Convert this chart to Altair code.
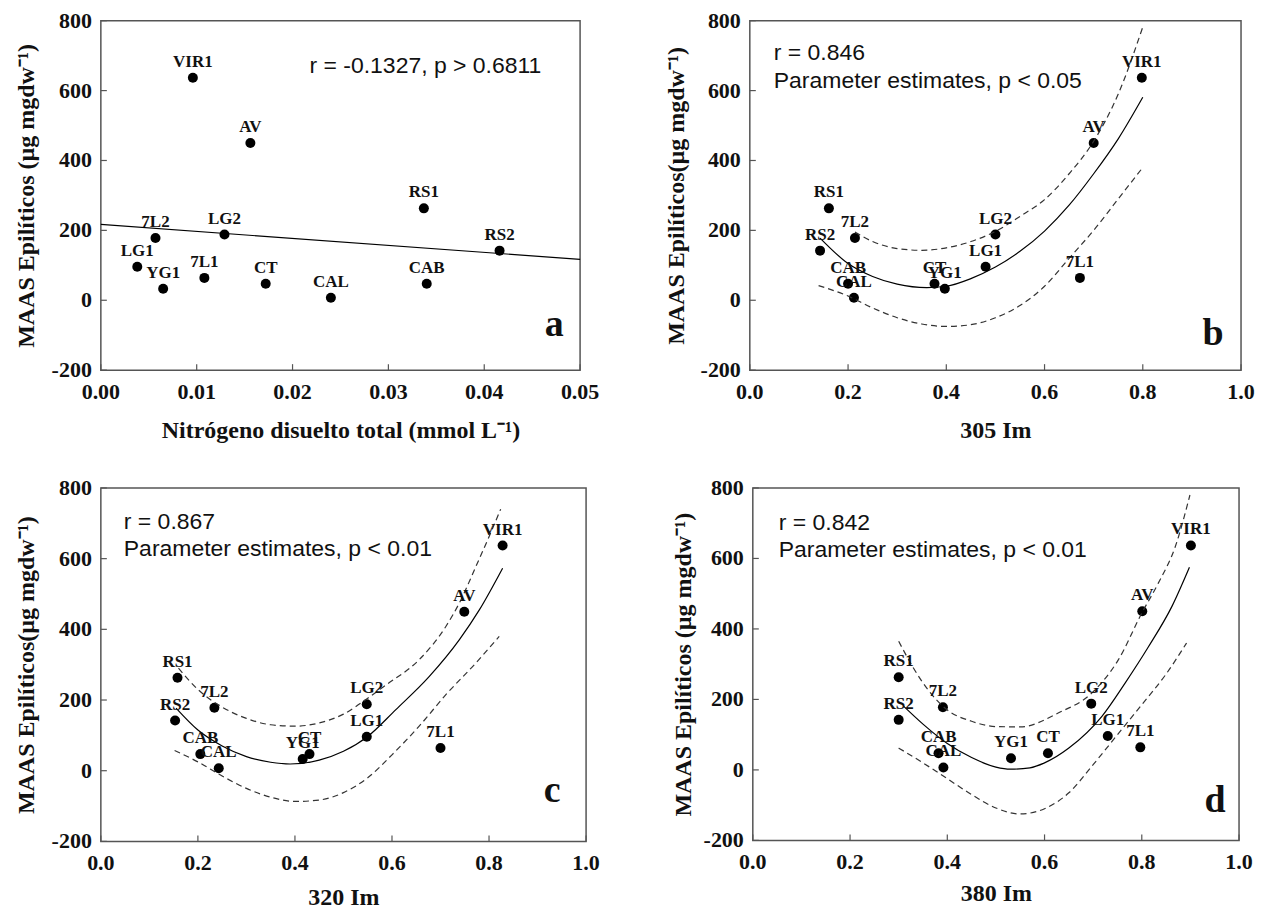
import altair as alt
import pandas as pd

SERIF = "Liberation Serif"
SANS = "Liberation Sans"

sites = ["VIR1", "AV", "RS1", "RS2", "7L2", "LG2", "LG1", "YG1", "7L1", "CT", "CAL", "CAB"]
maas = [637, 450, 263, 142, 178, 188, 96, 33, 64, 47, 7, 47]

x_a = [0.0096, 0.0156, 0.0337, 0.0416, 0.0057, 0.0129, 0.0038, 0.0065, 0.0108, 0.0172, 0.0240, 0.0340]
x_b = [0.798, 0.700, 0.161, 0.143, 0.214, 0.500, 0.480, 0.397, 0.672, 0.376, 0.212, 0.200]
x_c = [0.828, 0.749, 0.158, 0.153, 0.234, 0.548, 0.548, 0.416, 0.700, 0.430, 0.243, 0.205]
x_d = [0.901, 0.801, 0.300, 0.300, 0.391, 0.696, 0.730, 0.531, 0.797, 0.607, 0.392, 0.382]

# panel a: linear regression line (end points)
a_fit_x = [0.0, 0.05]
a_fit_y = [217, 117]

# panel b curves
b_fit_x = [0.143, 0.2, 0.25, 0.3, 0.36, 0.4, 0.45, 0.5, 0.55, 0.6, 0.65, 0.7, 0.75, 0.8]
b_fit_y = [178, 105, 68, 46, 36, 40, 62, 95, 140, 198, 272, 362, 462, 581]
b_up_x = [0.214, 0.25, 0.3, 0.35, 0.4, 0.45, 0.5, 0.55, 0.6, 0.65, 0.7, 0.75, 0.8]
b_up_y = [195, 168, 148, 143, 150, 168, 197, 240, 288, 362, 455, 590, 782]
b_lo_x = [0.14, 0.2, 0.25, 0.3, 0.35, 0.4, 0.45, 0.5, 0.55, 0.6, 0.65, 0.7, 0.75, 0.8]
b_lo_y = [42, 12, -22, -50, -68, -75, -70, -50, -15, 40, 120, 200, 290, 380]

# panel c curves
c_fit_x = [0.155, 0.2, 0.25, 0.3, 0.35, 0.39, 0.45, 0.5, 0.55, 0.608, 0.677, 0.739, 0.78, 0.828]
c_fit_y = [177, 115, 70, 40, 24, 19, 30, 55, 97, 173, 267, 371, 455, 573]
c_up_x = [0.16, 0.2, 0.25, 0.3, 0.35, 0.4, 0.45, 0.5, 0.55, 0.588, 0.656, 0.711, 0.739, 0.773, 0.8, 0.824]
c_up_y = [290, 230, 180, 148, 130, 126, 135, 160, 205, 243, 314, 408, 475, 578, 662, 740]
c_lo_x = [0.152, 0.2, 0.25, 0.3, 0.35, 0.4, 0.45, 0.5, 0.55, 0.6, 0.656, 0.711, 0.773, 0.821]
c_lo_y = [57, 25, -15, -50, -75, -87, -83, -62, -20, 45, 126, 215, 305, 380]

# panel d curves
d_fit_x = [0.31, 0.35, 0.4, 0.45, 0.5, 0.53, 0.57, 0.6, 0.65, 0.718, 0.766, 0.814, 0.862, 0.898]
d_fit_y = [181, 130, 75, 35, 8, 2, 6, 20, 62, 152, 247, 350, 464, 575]
d_up_x = [0.3, 0.33, 0.36, 0.4, 0.45, 0.5, 0.55, 0.629, 0.697, 0.752, 0.8, 0.834, 0.869, 0.899]
d_up_y = [365, 290, 228, 170, 138, 123, 122, 162, 218, 313, 445, 530, 634, 780]
d_lo_x = [0.3, 0.35, 0.4, 0.45, 0.5, 0.55, 0.6, 0.65, 0.7, 0.75, 0.8, 0.85, 0.892]
d_lo_y = [62, 20, -25, -70, -108, -125, -110, -65, 15, 100, 185, 272, 360]

y_ticks = [-200, 0, 200, 400, 600, 800]
y_tick_labels = ["-200", "0", "200", "400", "600", "800"]
a_ticks = [0.0, 0.01, 0.02, 0.03, 0.04, 0.05]
a_tick_labels = ["0.00", "0.01", "0.02", "0.03", "0.04", "0.05"]
im_ticks = [0.0, 0.2, 0.4, 0.6, 0.8, 1.0]
im_tick_labels = ["0.0", "0.2", "0.4", "0.6", "0.8", "1.0"]

ytitle_sp = "MAAS Epilíticos (µg mgdw⁻¹)"
ytitle_ns = "MAAS Epilíticos(µg mgdw⁻¹)"

FRAME = "#555555"
INK = "#111111"


def axis(values, title, title_pad):
    return alt.Axis(values=values, title=title, ticks=False, domain=False, grid=False,
                    labels=False, titlePadding=title_pad,
                    titleFont=SERIF, titleFontWeight="bold", titleFontSize=24, titleColor=INK)


def panel(xs, xdom, xticks, xlabels, xtitle, ytitle, w, h, curves, annots, letter, letter_pos,
          xtpad, ytpad):
    xscale = alt.Scale(domain=xdom, nice=False, zero=False)
    yscale = alt.Scale(domain=[-200, 800], nice=False)
    xaxis = axis(xticks, xtitle, xtpad)
    yaxis = axis(y_ticks, ytitle, ytpad)
    pts = pd.DataFrame({"x": xs, "y": maas, "site": sites})
    base = alt.Chart(pts)
    layers = []
    layers.append(base.mark_circle(size=100, color="black", opacity=1).encode(
        x=alt.X("x:Q", scale=xscale, axis=xaxis),
        y=alt.Y("y:Q", scale=yscale, axis=yaxis),
    ))
    for cx, cy, dashed in curves:
        df = pd.DataFrame({"x": cx, "y": cy})
        kw = dict(color="black", strokeWidth=1.2, interpolate="monotone")
        if dashed:
            kw.update(strokeDash=[6, 4], color="#333333")
        layers.append(alt.Chart(df).mark_line(**kw).encode(
            x=alt.X("x:Q", scale=xscale), y=alt.Y("y:Q", scale=yscale)))
    layers.append(base.mark_text(dy=-16, font=SERIF, fontWeight="bold", fontSize=17,
                                 color=INK).encode(
        x=alt.X("x:Q", scale=xscale), y=alt.Y("y:Q", scale=yscale), text="site:N"))
    # inward ticks
    yt = pd.DataFrame({"v": y_ticks, "lab": y_tick_labels})
    layers.append(alt.Chart(yt).mark_rule(color=FRAME, strokeWidth=1.2).encode(
        y=alt.Y("v:Q", scale=yscale), x=alt.value(0), x2=alt.value(6)))
    xt = pd.DataFrame({"v": xticks, "lab": xlabels})
    layers.append(alt.Chart(xt).mark_rule(color=FRAME, strokeWidth=1.2).encode(
        x=alt.X("v:Q", scale=xscale), y=alt.value(h), y2=alt.value(h - 6)))
    # tick labels
    layers.append(alt.Chart(yt).mark_text(
        font=SERIF, fontWeight="bold", fontSize=22, align="right", baseline="middle",
        color=INK).encode(y=alt.Y("v:Q", scale=yscale), x=alt.value(-9), text="lab:N"))
    layers.append(alt.Chart(xt).mark_text(
        font=SERIF, fontWeight="bold", fontSize=22, align="center", baseline="alphabetic",
        color=INK).encode(x=alt.X("v:Q", scale=xscale), y=alt.value(h + 29), text="lab:N"))
    for txt, px, py in annots:
        layers.append(alt.Chart(pd.DataFrame({"t": [txt]})).mark_text(
            font=SANS, fontSize=23, align="left", baseline="middle", color=INK).encode(
            x=alt.value(px), y=alt.value(py), text="t:N"))
    layers.append(alt.Chart(pd.DataFrame({"t": [letter]})).mark_text(
        font=SERIF, fontWeight="bold", fontSize=38, align="center", baseline="alphabetic",
        color=INK).encode(
        x=alt.value(letter_pos[0]), y=alt.value(letter_pos[1]), text="t:N"))
    return alt.layer(*layers).properties(width=w, height=h)


pa = panel(x_a, [0, 0.05], a_ticks, a_tick_labels, "Nitrógeno disuelto total (mmol L⁻¹)",
           ytitle_sp, 480, 350, [(a_fit_x, a_fit_y, False)],
           [("r = -0.1327, p > 0.6811", 209, 45)], "a", (454, 316), 48, 62)
pb = panel(x_b, [0, 1], im_ticks, im_tick_labels, "305 Im", ytitle_ns, 492, 350,
           [(b_fit_x, b_fit_y, False), (b_up_x, b_up_y, True), (b_lo_x, b_lo_y, True)],
           [("r = 0.846", 24, 32), ("Parameter estimates, p < 0.05", 24, 60)], "b", (464, 325),
           48, 61)
pc = panel(x_c, [0, 1], im_ticks, im_tick_labels, "320 Im", ytitle_ns, 486, 354,
           [(c_fit_x, c_fit_y, False), (c_up_x, c_up_y, True), (c_lo_x, c_lo_y, True)],
           [("r = 0.867", 23, 34), ("Parameter estimates, p < 0.01", 23, 61)], "c", (452, 315),
           44, 62)
pd_ = panel(x_d, [0, 1], im_ticks, im_tick_labels, "380 Im", ytitle_sp, 487, 353,
            [(d_fit_x, d_fit_y, False), (d_up_x, d_up_y, True), (d_lo_x, d_lo_y, True)],
            [("r = 0.842", 26, 35), ("Parameter estimates, p < 0.01", 26, 62)], "d", (463, 325),
            41, 57)

row1 = alt.hconcat(pa, pb, spacing=64)
row2 = alt.hconcat(pc, pd_, spacing=70)
chart = alt.vconcat(row1, row2, spacing=33).properties(
    padding={"left": 6, "top": 0, "right": 5, "bottom": 5}
).configure_view(
    stroke=FRAME, strokeWidth=1.5
)

chart.save("out.html", embed_options={"renderer": "svg", "actions": False})
